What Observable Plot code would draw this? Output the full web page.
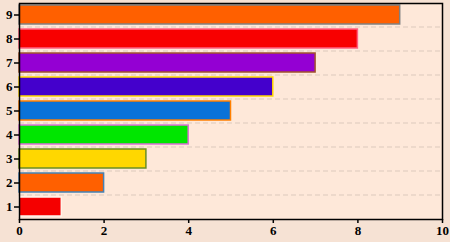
<!DOCTYPE html>
<html><head><meta charset="utf-8">
<script src="https://cdn.jsdelivr.net/npm/d3@7"></script>
<script src="https://cdn.jsdelivr.net/npm/@observablehq/plot@0.6"></script>
<style>html,body{margin:0;padding:0;background:#f6e2d4;} svg text{font-family:"Liberation Serif",serif !important;font-weight:bold;}</style>
</head><body><div id="chart"></div>
<script>
const categories = ["1","2","3","4","5","6","7","8","9"];
const values = [1, 2, 3, 4, 5, 6, 7, 8, 9];
const fills = ["#f50000","#ff6000","#ffd700","#00e600","#0a72d8","#4400cc","#9400d3","#f80000","#ff6000"];
const strokes = ["#fff4ea","#4682b4","#6b8e23","#da70d6","#ff7f00","#ffd700","#a0522d","#ff6080","#808080"];
const xTicks = [0, 2, 4, 6, 8, 10];

const data = categories.map((c, i) => ({cat: c, value: values[i], fill: fills[i], stroke: strokes[i]}));

const font = {fontFamily: "Liberation Serif", fontWeight: "bold", fontSize: 13};

const chart = Plot.plot({
  width: 450, height: 242,
  marginLeft: 19, marginRight: 8, marginTop: 3, marginBottom: 23,
  style: {background: "#f6e2d4", fontFamily: "'Liberation Serif', serif", fontSize: "13px", fontWeight: "bold", color: "#000", overflow: "visible"},
  color: {type: "identity"},
  x: {domain: [0, 10], label: null},
  y: {domain: categories.slice().reverse(), paddingInner: 0.2, paddingOuter: 0.1, label: null},
  marks: [
    Plot.frame({fill: "#fee8d9", stroke: "none"}),
    Plot.ruleY(categories.slice(1), {y: d => d, dy: 12, stroke: "#dcc9bc", strokeDasharray: "5,3"}),
    Plot.barX(data, {x: "value", y: "cat", fill: "fill", stroke: "stroke", strokeWidth: 1.5}),
    Plot.axisX({ticks: xTicks, tickSize: 4, tickPadding: 2, label: null, stroke: "#000", strokeWidth: 1.5, ...font}),
    Plot.axisY({tickSize: 5, tickPadding: 2, label: null, stroke: "#000", strokeWidth: 1.5, ...font}),
    Plot.frame({stroke: "#000", strokeWidth: 1.5})
  ]
});
document.getElementById("chart").appendChild(chart);
</script>
</body></html>
